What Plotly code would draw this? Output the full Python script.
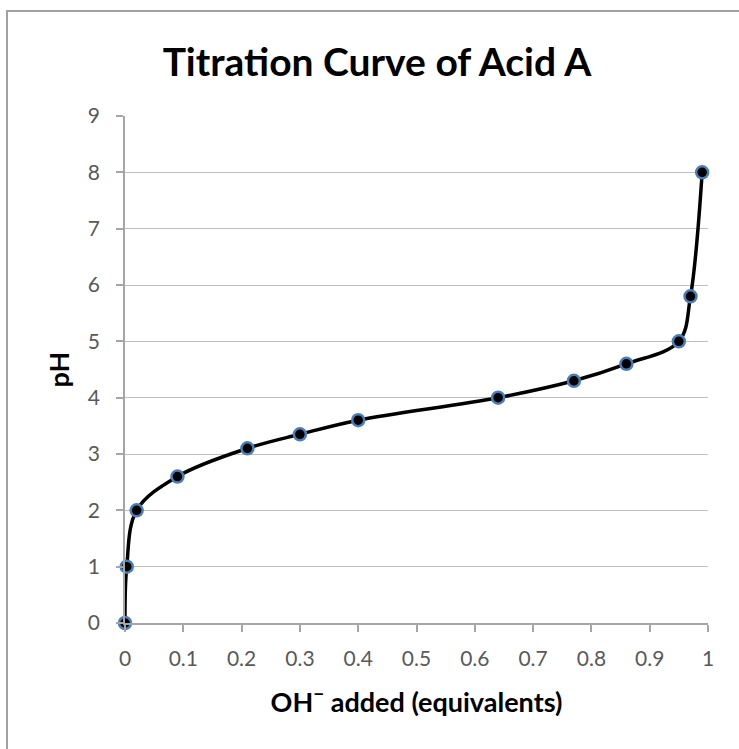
import plotly.graph_objects as go

# Data
oh_added = [0.0, 0.003, 0.02, 0.09, 0.21, 0.30, 0.40, 0.64, 0.77, 0.86, 0.95, 0.97, 0.99]
ph_values = [0.0, 1.0, 2.0, 2.6, 3.1, 3.35, 3.6, 4.0, 4.3, 4.6, 5.0, 5.8, 8.0]

x_ticks = [0, 0.1, 0.2, 0.3, 0.4, 0.5, 0.6, 0.7, 0.8, 0.9, 1]
x_tick_labels = ["0", "0.1", "0.2", "0.3", "0.4", "0.5", "0.6", "0.7", "0.8", "0.9", "1"]
y_ticks = [0, 1, 2, 3, 4, 5, 6, 7, 8, 9]

FONT = "Lato, 'Open Sans', sans-serif"

fig = go.Figure()
fig.add_trace(go.Scatter(
    x=oh_added, y=ph_values,
    mode="lines+markers",
    line=dict(color="black", width=3.5, shape="spline", smoothing=1.0),
    marker=dict(color="black", size=12, line=dict(color="#4a7ebb", width=2.5)),
    cliponaxis=False,
    showlegend=False,
))

fig.update_layout(
    width=739, height=749,
    paper_bgcolor="white", plot_bgcolor="white",
    margin=dict(l=125, r=31, t=116, b=126),
    title=dict(text="<b>Titration Curve of Acid A</b>", xref="container",
               x=377 / 739, xanchor="center",
               y=1 - 62 / 749, yanchor="middle",
               font=dict(family=FONT, size=39, color="black")),
    font=dict(family=FONT),
    xaxis=dict(
        range=[0, 1], tickvals=x_ticks, ticktext=x_tick_labels,
        showgrid=False, zeroline=False,
        showline=True, linecolor="#a6a6a6", linewidth=1.5,
        ticks="outside", ticklen=7, tickcolor="#a6a6a6", tickwidth=1.5,
        ticklabelstandoff=9,
        tickfont=dict(size=21, color="#595959"),
        title=dict(text="<b>OH<sup>−</sup> added (equivalents)</b>",
                   font=dict(size=27, color="black"), standoff=24),
    ),
    yaxis=dict(
        range=[0, 9], tickvals=y_ticks,
        showgrid=True, gridcolor="#c0c0c0", gridwidth=1.3,
        zeroline=False,
        showline=True, linecolor="#a6a6a6", linewidth=1.5,
        ticks="outside", ticklen=7, tickcolor="#a6a6a6", tickwidth=1.5,
        ticklabelstandoff=12,
        tickfont=dict(size=21, color="#595959"),
        title=dict(text="<b>pH</b>", font=dict(size=27, color="black"), standoff=10),
    ),
    shapes=[dict(type="rect", xref="paper", yref="paper",
                 x0=(7 - 125) / 583, x1=1.2, y0=-0.3, y1=(623 - 11) / 507,
                 line=dict(color="#a0a0a0", width=2), layer="below")],
)

fig.write_html("out.html", config={"displayModeBar": False},
               post_script="document.body.style.margin='0';")
